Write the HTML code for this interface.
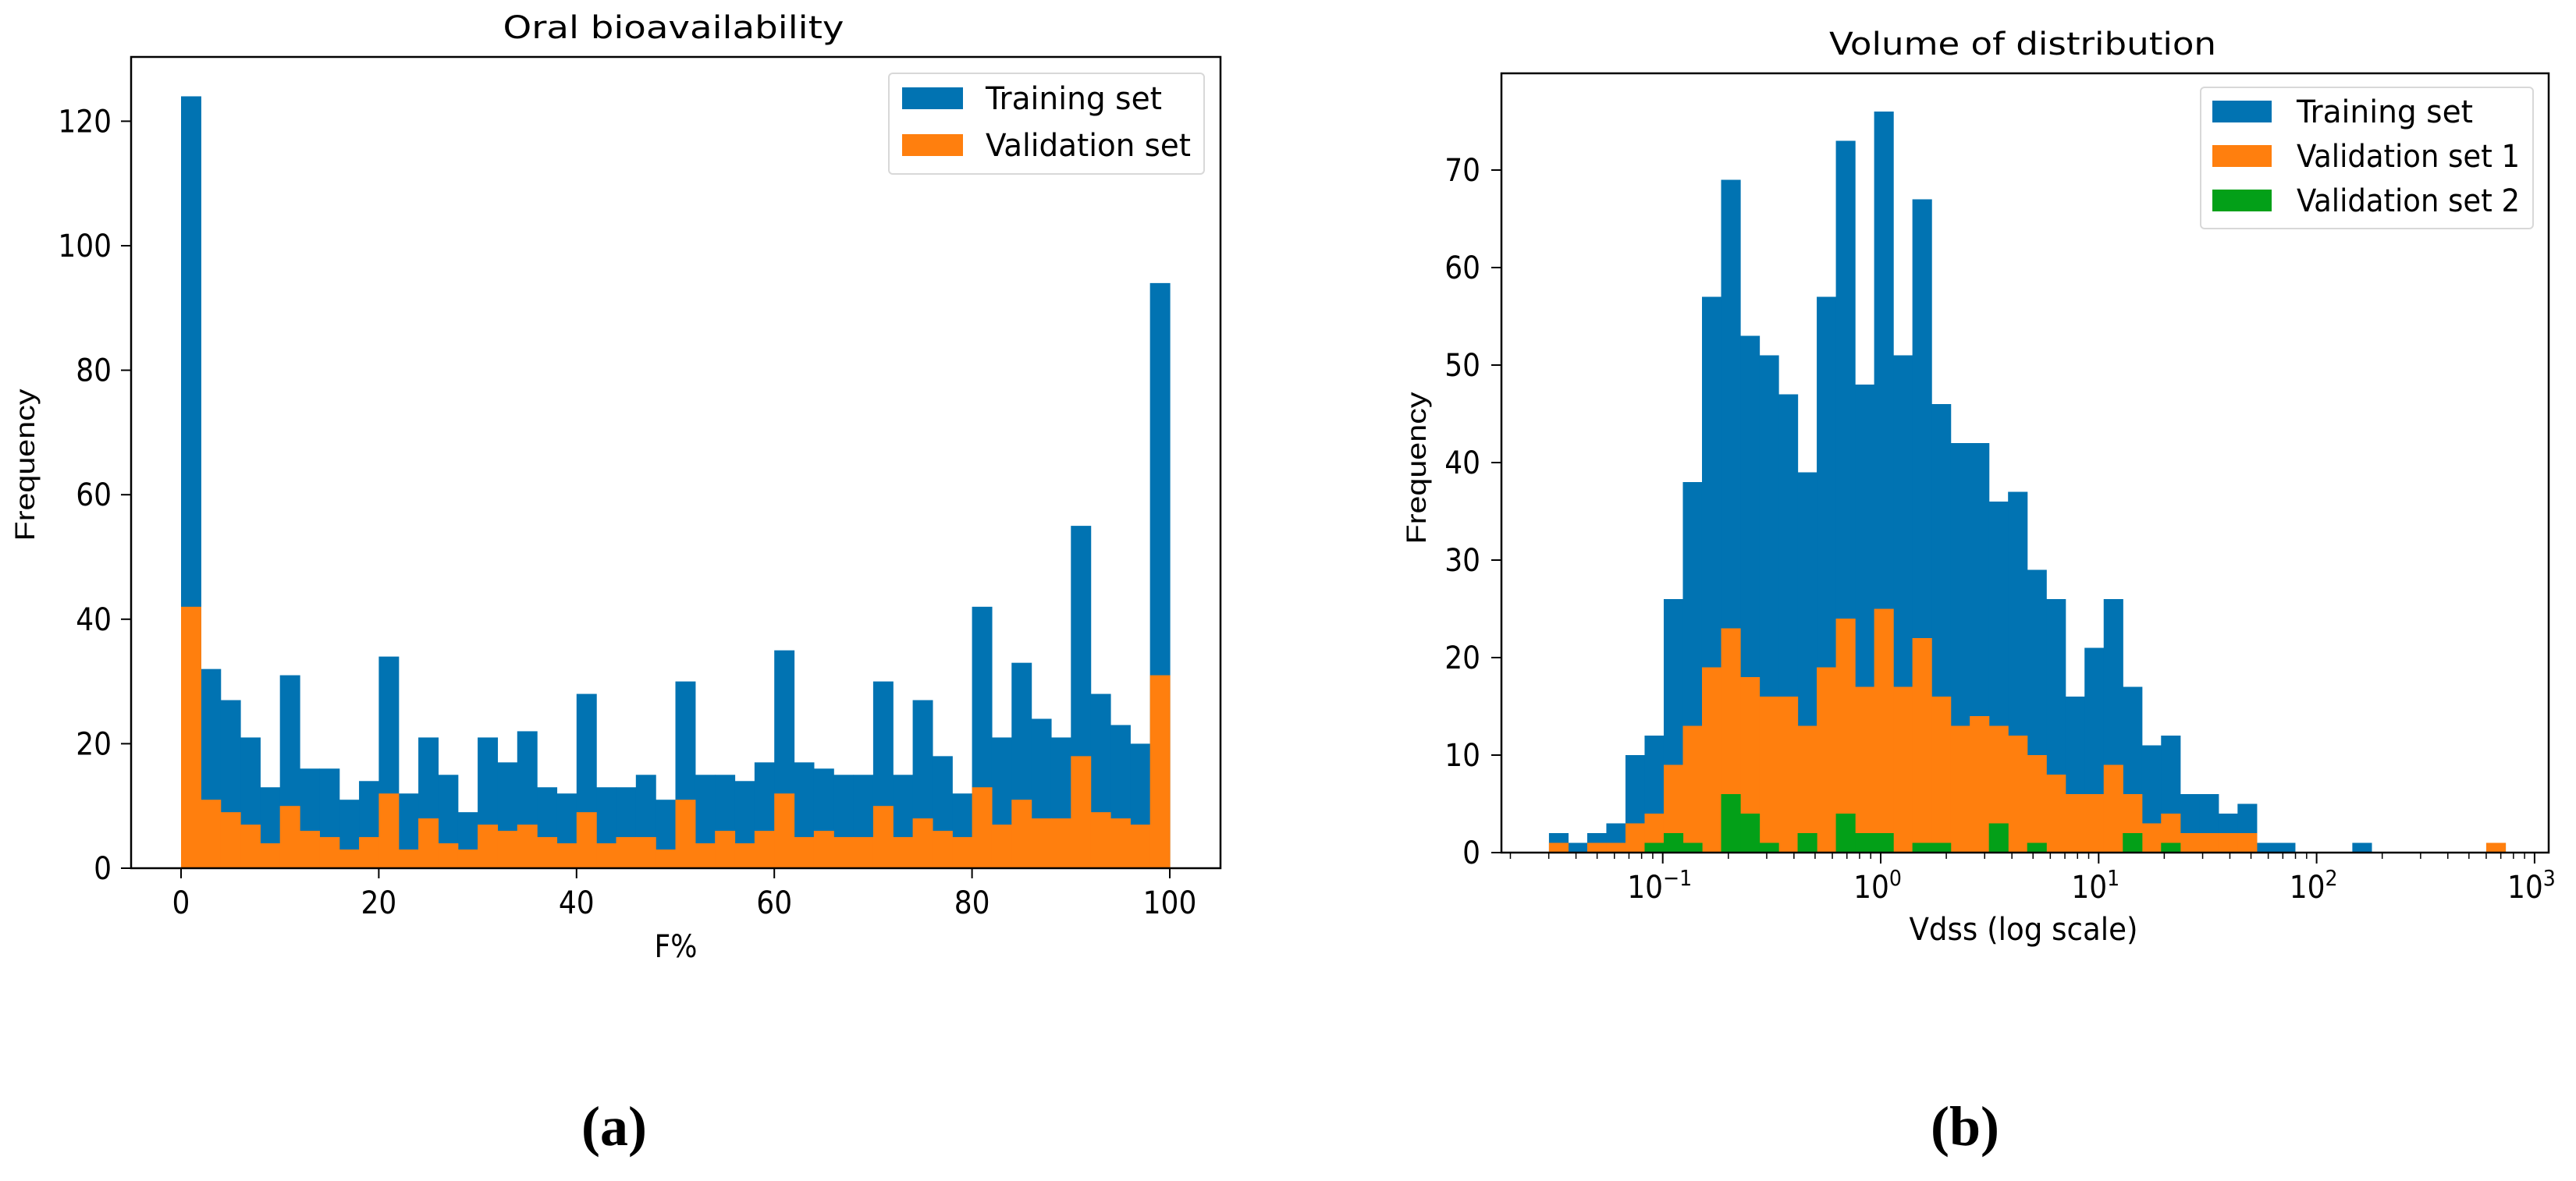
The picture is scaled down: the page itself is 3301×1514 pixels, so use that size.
<!DOCTYPE html>
<html><head><meta charset="utf-8">
<style>
html,body{margin:0;padding:0;background:#fff;}
svg{display:block;}
text{font-family:"DejaVu Sans Condensed","Liberation Sans",sans-serif;fill:#000;}
.wide{font-family:"Liberation Sans","DejaVu Sans",sans-serif;}
.serif{font-family:"Liberation Serif",serif;font-weight:bold;}
</style></head>
<body>
<svg id="fig" width="3301" height="1514" viewBox="0 0 3301 1514" xmlns="http://www.w3.org/2000/svg">
  <g id="chartA"></g>
  <g id="chartB"></g>
  <text class="serif" x="787" y="1468" font-size="72" text-anchor="middle">(a)</text>
  <text class="serif" x="2518" y="1468" font-size="72" text-anchor="middle">(b)</text>
</svg>
<script>
// ---- Chart A data ----
const aTrain = [124,32,27,21,13,31,16,16,11,14,34,12,21,15,9,21,17,22,13,12,28,13,13,15,11,30,15,15,14,17,35,17,16,15,15,30,15,27,18,12,42,21,33,24,21,55,28,23,20,94];
const aVal   = [42,11,9,7,4,10,6,5,3,5,12,3,8,4,3,7,6,7,5,4,9,4,5,5,3,11,4,6,4,6,12,5,6,5,5,10,5,8,6,5,13,7,11,8,8,18,9,8,7,31];
const aXTicks = [0,20,40,60,80,100];
const aYTicks = [0,20,40,60,80,100,120];
// ---- Chart B data ----
const bTrain = [2,1,2,3,10,12,26,38,57,69,53,51,47,39,57,73,48,76,51,67,46,42,42,36,37,29,26,16,21,26,17,11,12,6,6,4,5,1,1,0,0,0,1,0,0,0,0,0,0,1];
const bVal1  = [1,0,1,1,3,4,9,13,19,23,18,16,16,13,19,24,17,25,17,22,16,13,14,13,12,10,8,6,6,9,6,3,4,2,2,2,2,0,0,0,0,0,0,0,0,0,0,0,0,1];
const bVal2  = [0,0,0,0,0,1,2,1,0,6,4,1,0,2,0,4,2,2,0,1,1,0,0,3,0,1,0,0,0,0,2,0,1,0,0,0,0,0,0,0,0,0,0,0,0,0,0,0,0,0];
const bXTickExp = [-1,0,1,2,3];
const bYTicks = [0,10,20,30,40,50,60,70];

const NS = "http://www.w3.org/2000/svg";
const BLUE = "#0173b2", ORANGE = "#ff7f0e", GREEN = "#03a018";
function mk(parent, tag, attrs, txt){
  const e = document.createElementNS(NS, tag);
  for (const k in attrs) e.setAttribute(k, attrs[k]);
  if (txt !== undefined) e.textContent = txt;
  parent.appendChild(e);
  return e;
}

// ================= Chart A =================
(function(){
  const g = document.getElementById('chartA');
  const L=168, R=1564, T=73, B=1113;
  const sx = v => 232 + (v-0)*(1499-232)/100;
  const sy = v => 1113 - v*7.98;
  const binW = 2;
  const series = [[aTrain, BLUE, 'training'], [aVal, ORANGE, 'validation']];
  series.forEach(([arr, col, nm]) => {
    arr.forEach((v, i) => {
      if (v <= 0) return;
      const x0 = sx(i*binW), x1 = sx((i+1)*binW);
      const r = mk(g, 'rect', {x:x0, y:sy(v), width:x1-x0+0.6, height:sy(0)-sy(v), fill:col});
      
      
    });
  });
  const frame = mk(g, 'rect', {x:L, y:T, width:R-L, height:B-T, fill:'none', stroke:'#000', 'stroke-width':2.5});
  
  
  aXTicks.forEach(t => {
    const x = sx(t);
    const l = mk(g, 'line', {x1:x, y1:B, x2:x, y2:B+13, stroke:'#000', 'stroke-width':2});
    
    
    const tx = mk(g, 'text', {x:x, y:B+58, 'font-size':40, 'text-anchor':'middle'}, String(t));
    
    
  });
  aYTicks.forEach(t => {
    const y = sy(t);
    const l = mk(g, 'line', {x1:L-13, y1:y, x2:L, y2:y, stroke:'#000', 'stroke-width':2});
    
    
    const tx = mk(g, 'text', {x:143, y:y+14, 'font-size':40, 'text-anchor':'end'}, String(t));
    
    
  });
  const title = mk(g, 'text', {x:863, y:49, 'font-size':40, 'text-anchor':'middle', textLength:437, lengthAdjust:'spacingAndGlyphs'}, 'Oral bioavailability');
  
  
  const xl = mk(g, 'text', {x:866, y:1227, 'font-size':40, 'text-anchor':'middle'}, 'F%');
  
  
  const yl = mk(g, 'text', {x:0, y:0, 'font-size':35, 'text-anchor':'middle', class:'wide', transform:'translate(44,596) rotate(-90)', textLength:195, lengthAdjust:'spacingAndGlyphs'}, 'Frequency');
  
  
  // legend
  const lg = mk(g, 'g', {});
  
  
  mk(lg, 'rect', {x:1139, y:94, width:404, height:129, rx:5, fill:'#fff', 'fill-opacity':0.8, stroke:'#d8d8d8', 'stroke-width':2});
  [['Training set', BLUE, 126, 226], ['Validation set', ORANGE, 186, 263]].forEach(([lab, col, cy, w]) => {
    const e = mk(lg, 'g', {});
    
    
    mk(e, 'rect', {x:1156, y:cy-14, width:78, height:28, fill:col});
    mk(e, 'text', {x:1263, y:cy+14, 'font-size':40, textLength:w, lengthAdjust:'spacingAndGlyphs'}, lab);
  });
})();

// ================= Chart B =================
(function(){
  const g = document.getElementById('chartB');
  const L=1924, R=3266, T=94, B=1093;
  const DEC = 279.3, X0 = 2410;
  const sx = lv => X0 + lv*DEC;          // lv = log10(value)
  const sy = v => 1093 - v*12.5;
  const lo = -1.522, hi = 2.866, n = bTrain.length;
  const bw = (hi-lo)/n;
  const series = [[bTrain, BLUE, 'training'], [bVal1, ORANGE, 'validation-1'], [bVal2, GREEN, 'validation-2']];
  series.forEach(([arr, col, nm]) => {
    arr.forEach((v, i) => {
      if (v <= 0) return;
      const x0 = sx(lo + i*bw), x1 = sx(lo + (i+1)*bw);
      const r = mk(g, 'rect', {x:x0, y:sy(v), width:x1-x0+0.6, height:sy(0)-sy(v), fill:col});
      
      
    });
  });
  const frame = mk(g, 'rect', {x:L, y:T, width:R-L, height:B-T, fill:'none', stroke:'#000', 'stroke-width':2.5});
  
  
  // minor ticks
  for (let d = -2; d <= 3; d++) {
    for (let m = 2; m <= 9; m++) {
      const lv = d + Math.log10(m);
      const x = sx(lv);
      if (x < L || x > R) continue;
      const l = mk(g, 'line', {x1:x, y1:B, x2:x, y2:B+8, stroke:'#000', 'stroke-width':1.5});
      
      
    }
  }
  bXTickExp.forEach(e => {
    const x = sx(e);
    const l = mk(g, 'line', {x1:x, y1:B, x2:x, y2:B+14, stroke:'#000', 'stroke-width':2});
    
    
    const tx = mk(g, 'text', {x:x-4, y:B+58, 'font-size':40, 'text-anchor':'middle'});
    
    
    mk(tx, 'tspan', {}, '10');
    mk(tx, 'tspan', {dy:-16, 'font-size':28}, e < 0 ? '\u2212' + Math.abs(e) : String(e));
  });
  bYTicks.forEach(t => {
    const y = sy(t);
    const l = mk(g, 'line', {x1:L-13, y1:y, x2:L, y2:y, stroke:'#000', 'stroke-width':2});
    
    
    const tx = mk(g, 'text', {x:1897, y:y+14, 'font-size':40, 'text-anchor':'end'}, String(t));
    
    
  });
  const title = mk(g, 'text', {x:2592, y:70, 'font-size':40, 'text-anchor':'middle', textLength:496, lengthAdjust:'spacingAndGlyphs'}, 'Volume of distribution');
  
  
  const xl = mk(g, 'text', {x:2593, y:1205, 'font-size':40, 'text-anchor':'middle', textLength:293, lengthAdjust:'spacingAndGlyphs'}, 'Vdss (log scale)');
  
  
  const yl = mk(g, 'text', {x:0, y:0, 'font-size':35, 'text-anchor':'middle', class:'wide', transform:'translate(1827,600) rotate(-90)', textLength:195, lengthAdjust:'spacingAndGlyphs'}, 'Frequency');
  
  
  const lg = mk(g, 'g', {});
  
  
  mk(lg, 'rect', {x:2820, y:112, width:426, height:181, rx:5, fill:'#fff', 'fill-opacity':0.8, stroke:'#d8d8d8', 'stroke-width':2});
  [['Training set', BLUE, 143, 226], ['Validation set 1', ORANGE, 200, 286], ['Validation set 2', GREEN, 257, 286]].forEach(([lab, col, cy, w]) => {
    const e = mk(lg, 'g', {});
    
    
    mk(e, 'rect', {x:2835, y:cy-14, width:76, height:28, fill:col});
    mk(e, 'text', {x:2943, y:cy+14, 'font-size':40, textLength:w, lengthAdjust:'spacingAndGlyphs'}, lab);
  });
})();
</script>
</body></html>
